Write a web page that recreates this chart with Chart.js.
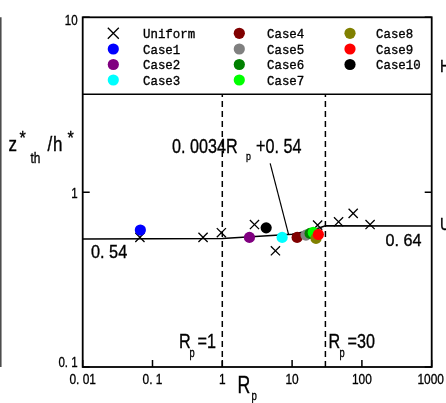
<!DOCTYPE html>
<html>
<head>
<meta charset="utf-8">
<script src="https://cdn.jsdelivr.net/npm/chart.js@4/dist/chart.umd.min.js"></script>
<style>
  html, body { margin: 0; padding: 0; background: #fff; }
  canvas { display: block; }
</style>
</head>
<body>
<canvas id="chart" width="446" height="403"></canvas>
<script>
// Uniform case (crosses)
const uniformRp = [0.066, 0.53, 0.97, 2.89, 5.77, 23.2, 46.3, 75, 131];
const uniformZ = [0.551, 0.551, 0.586, 0.653, 0.462, 0.648, 0.677, 0.756, 0.653];

// Case1..Case10 (filled dots)
const caseNames = ["Case1", "Case2", "Case3", "Case4", "Case5", "Case6", "Case7", "Case8", "Case9", "Case10"];
const caseRp = [0.067, 2.45, 7.2, 11.8, 15.8, 18.1, 20.1, 22.0, 23.8, 4.25];
const caseZ = [0.607, 0.551, 0.551, 0.551, 0.568, 0.581, 0.588, 0.544, 0.573, 0.625];
const caseColors = ["#0000ff", "#800080", "#00ffff", "#800000", "#808080", "#008000", "#00ff00", "#808000", "#ff0000", "#000000"];

// fitted line: 0.54 for small Rp, 0.0034Rp+0.54 up to 30, then 0.64
const fitRp = [0.01, 1, 10, 20, 30, 1000];
const fitZ = [0.54, 0.543, 0.574, 0.608, 0.642, 0.64];

// leader line from the formula label to the fit
const leaderRp = [4.85, 8.9];
const leaderZ = [1.46, 0.573];

// dashed limits Rp = 1 and Rp = 30, up to the legend box
const limitRp = [1, 30];
const limitTop = 3.63;

// axis ticks
const xTicks = [0.01, 0.1, 1, 10, 100, 1000];
const xTickLabels = ["0. 01", "0. 1", "1", "10", "100", "1000"];
const yTicks = [0.1, 1, 10];
const yTickLabels = ["0. 1", "1", "10"];

const SANS = "'Liberation Sans', Arial, sans-serif";
const MONO = "'Liberation Mono', 'DejaVu Sans Mono', monospace";
const SX = 0.77; // narrow look of the original font

function toPoints(xs, ys) {
    return xs.map((x, i) => ({ x: x, y: ys[i] }));
}

// draw text squeezed horizontally; x is left edge unless align given
function txt(ctx, s, x, y, size, opts) {
    opts = opts || {};
    const sx = opts.sx || SX;
    ctx.save();
    ctx.font = (opts.font || (size + "px " + SANS));
    ctx.fillStyle = "#000";
    ctx.strokeStyle = "#000";
    ctx.lineWidth = 0.35;
    ctx.textBaseline = "alphabetic";
    let w = ctx.measureText(s).width * sx;
    let left = x;
    if (opts.align === "center") left = x - w / 2;
    if (opts.align === "right") left = x - w;
    ctx.translate(left, y);
    ctx.scale(sx, 1);
    ctx.textAlign = "left";
    ctx.fillText(s, 0, 0);
    ctx.strokeText(s, 0, 0); // a bit heavier, like the original
    ctx.restore();
}

function drawCross(ctx, x, y, r, lw) {
    ctx.save();
    ctx.strokeStyle = "#000";
    ctx.lineWidth = lw;
    ctx.beginPath();
    ctx.moveTo(x - r, y - r); ctx.lineTo(x + r, y + r);
    ctx.moveTo(x - r, y + r); ctx.lineTo(x + r, y - r);
    ctx.stroke();
    ctx.restore();
}

function drawDot(ctx, x, y, r, color) {
    ctx.save();
    ctx.fillStyle = color;
    ctx.beginPath();
    ctx.arc(x, y, r, 0, Math.PI * 2);
    ctx.fill();
    ctx.restore();
}

const datasets = [];

// case dots; later cases on top
caseNames.forEach((name, i) => {
    datasets.push({
        label: name,
        data: [{ x: caseRp[i], y: caseZ[i] }],
        pointStyle: "circle",
        pointRadius: 5.6,
        pointBackgroundColor: caseColors[i],
        pointBorderColor: caseColors[i],
        pointBorderWidth: 0,
        showLine: false,
        order: 11 - i
    });
});

datasets.push({
    label: "Uniform",
    data: toPoints(uniformRp, uniformZ),
    pointStyle: "crossRot",
    pointRadius: 6.5,
    pointBorderColor: "#000",
    pointBorderWidth: 1.3,
    showLine: false,
    order: 12
});

datasets.push({
    label: "fit",
    data: toPoints(fitRp, fitZ),
    showLine: true,
    borderColor: "#000",
    borderWidth: 1.5,
    pointRadius: 0,
    order: 20
});

datasets.push({
    label: "leader",
    data: toPoints(leaderRp, leaderZ),
    showLine: true,
    borderColor: "#000",
    borderWidth: 1.2,
    pointRadius: 0,
    order: 20
});

limitRp.forEach((rp) => {
    datasets.push({
        label: "limit",
        data: [{ x: rp, y: 0.1 }, { x: rp, y: limitTop }],
        showLine: true,
        borderColor: "#000",
        borderWidth: 1.5,
        borderDash: [6, 4],
        pointRadius: 0,
        order: 21
    });
});

// white page, frame, ticks, legend and all the texts
const decorations = {
    id: "decorations",
    beforeDraw(chart) {
        const ctx = chart.ctx;
        ctx.save();
        ctx.fillStyle = "#fff";
        ctx.fillRect(0, 0, chart.width, chart.height);
        ctx.restore();
    },
    afterDraw(chart) {
        const ctx = chart.ctx;
        const a = chart.chartArea;
        const xs = chart.scales.x;
        const ys = chart.scales.y;

        // plot frame
        ctx.save();
        ctx.strokeStyle = "#000";
        ctx.lineWidth = 1.8;
        ctx.strokeRect(a.left, a.top, a.right - a.left, a.bottom - a.top);

        // inward ticks
        ctx.lineWidth = 1.5;
        ctx.beginPath();
        xTicks.forEach((v) => {
            const px = xs.getPixelForValue(v);
            ctx.moveTo(px, a.bottom);
            ctx.lineTo(px, a.bottom - 7);
        });
        yTicks.forEach((v) => {
            const py = ys.getPixelForValue(v);
            ctx.moveTo(a.left, py);
            ctx.lineTo(a.left + 7, py);
            ctx.moveTo(a.right, py);
            ctx.lineTo(a.right - 7, py);
        });
        ctx.stroke();

        // legend box bottom edge
        const legBottom = ys.getPixelForValue(limitTop);
        ctx.lineWidth = 1.5;
        ctx.beginPath();
        ctx.moveTo(a.left, legBottom);
        ctx.lineTo(a.right, legBottom);
        ctx.stroke();

        // edge of the neighbouring panel on the left
        ctx.strokeStyle = "#444";
        ctx.lineWidth = 1.5;
        ctx.beginPath();
        ctx.moveTo(0.8, a.top);
        ctx.lineTo(0.8, a.bottom);
        ctx.stroke();
        ctx.restore();

        // tick labels
        xTicks.forEach((v, i) => {
            let px = xs.getPixelForValue(v);
            if (v === 1000) px -= 1;
            txt(ctx, xTickLabels[i], px, 384, 15.5, { align: "center" });
        });
        const yLabelY = [367, 198, 24.5];
        yTicks.forEach((v, i) => {
            txt(ctx, yTickLabels[i], a.left - 5, yLabelY[i], 15, { align: "right" });
        });

        // axis titles
        txt(ctx, "R", 237.5, 392.7, 23);
        txt(ctx, "p", 251.5, 400, 12.5);

        txt(ctx, "z", 8.5, 150.7, 20, { sx: 0.85 });
        txt(ctx, "*", 19.5, 144, 18, { sx: 0.9 });
        txt(ctx, "th", 30.5, 163, 14, { sx: 0.85 });
        txt(ctx, "/", 47.5, 150.7, 20, { sx: 0.85 });
        txt(ctx, "h", 53, 150.7, 20, { sx: 0.85 });
        txt(ctx, "*", 67.5, 144, 18, { sx: 0.9 });

        // annotations
        txt(ctx, "0. 0034R", 172, 152.7, 21);
        txt(ctx, "p", 246, 159.5, 11.5);
        txt(ctx, "+0. 54", 256, 152.7, 21);

        txt(ctx, "0. 54", 91, 257.7, 18.5, { sx: 0.88 });
        txt(ctx, "0. 64", 385.5, 246, 17, { sx: 0.95 });

        txt(ctx, "R", 179, 348.3, 21);
        txt(ctx, "p", 189.5, 356.5, 12);
        txt(ctx, "=1", 197.5, 348.3, 21);

        txt(ctx, "R", 328.5, 348.3, 21);
        txt(ctx, "p", 339.5, 356.5, 12);
        txt(ctx, "=30", 347.5, 348.3, 21);

        // labels of the neighbouring panel on the right
        txt(ctx, "H", 440, 72, 17, { sx: 0.85 });
        txt(ctx, "U", 440, 230, 17, { sx: 0.85 });

        // legend: three columns
        const rowY = [33.3, 49, 64.5, 80];
        const cols = [
            { mx: 113.3, tx: 143 },
            { mx: 239.3, tx: 267 },
            { mx: 350, tx: 376 }
        ];
        const items = [{ label: "Uniform", color: null }];
        caseNames.forEach((n, i) => items.push({ label: n, color: caseColors[i] }));
        items.forEach((it, k) => {
            const col = cols[Math.floor(k / 4)];
            const y = rowY[k % 4];
            if (it.color) {
                drawDot(ctx, col.mx, y, 5.6, it.color);
            } else {
                drawCross(ctx, col.mx, y, 5.5, 1.3);
            }
            txt(ctx, it.label, col.tx, y + 4.8, 13.5, { font: "13.5px " + MONO, sx: 0.92 });
        });
    }
};

const chart = new Chart(document.getElementById("chart"), {
    type: "scatter",
    data: { datasets: datasets },
    options: {
        responsive: false,
        devicePixelRatio: 1,
        animation: false,
        layout: { padding: { left: 82.7, right: 14.3, top: 17.3, bottom: 36 } },
        scales: {
            x: { type: "logarithmic", min: 0.01, max: 1000, display: false },
            y: { type: "logarithmic", min: 0.1, max: 10, display: false }
        },
        plugins: {
            legend: { display: false },
            tooltip: { enabled: false }
        },
        elements: { line: { tension: 0 } }
    },
    plugins: [decorations]
});
</script>
</body>
</html>
